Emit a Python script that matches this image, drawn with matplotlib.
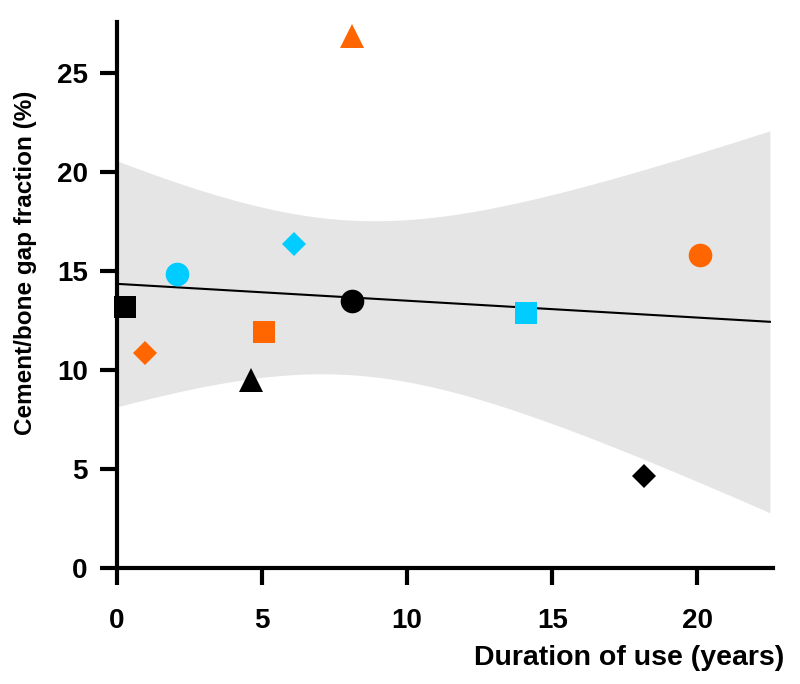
import numpy as np
import matplotlib.pyplot as plt

plt.rcParams['font.family'] = ['Liberation Sans', 'DejaVu Sans']
plt.rcParams['font.weight'] = 'bold'

years = [0.28, 0.97, 2.07, 4.62, 5.07, 6.1, 8.1, 8.1, 14.1, 18.17, 20.1]
gap = [13.2, 10.86, 14.85, 9.5, 11.9, 16.36, 26.9, 13.5, 12.9, 4.65, 15.8]
markers = ['s', 'D', 'o', '^', 's', 'D', '^', 'o', 's', 'D', 'o']
colors = ['black', '#FF6600', '#00CCFF', 'black', '#FF6600', '#00CCFF',
          '#FF6600', 'black', '#00CCFF', 'black', '#FF6600']
sizes = [16, 12, 17, 17, 16, 12, 17, 17, 16, 12, 17]

x = np.array(years)
y = np.array(gap)
n = len(x)
slope, intercept = np.polyfit(x, y, 1)
resid = y - (slope * x + intercept)
s = np.sqrt(np.sum(resid ** 2) / (n - 2))
t_val = 2.262  # t(0.975, df=9)
xx = np.linspace(0, 22.5, 200)
yy = slope * xx + intercept
half = t_val * s * np.sqrt(1 / n + (xx - x.mean()) ** 2 / np.sum((x - x.mean()) ** 2))

fig = plt.figure(figsize=(8, 6.84), dpi=100)
ax = fig.add_axes([0.146, 0.170, 0.82, 0.798])

ax.fill_between(xx, yy - half, yy + half, color='#E5E5E5', lw=0, zorder=1)
ax.plot(xx, yy, color='black', lw=1.5, zorder=2)

for xi, yi, m, c, ms in zip(years, gap, markers, colors, sizes):
    ax.plot(xi, yi, marker=m, color=c, markersize=ms, ls='none', zorder=3,
            markeredgewidth=0, clip_on=False)

ax.set_xlim(0, 22.6)
ax.set_ylim(0, 27.6)
ax.set_xticks([0, 5, 10, 15, 20])
ax.set_yticks([0, 5, 10, 15, 20, 25])

for sp in ['top', 'right']:
    ax.spines[sp].set_visible(False)
for sp in ['left', 'bottom']:
    ax.spines[sp].set_linewidth(3)
ax.tick_params(width=3, length=12, labelsize=20, pad=9)
ax.tick_params(axis='x', pad=17)
for lab in ax.get_xticklabels() + ax.get_yticklabels():
    lab.set_fontweight('bold')

ax.set_xlabel('Duration of use (years)', fontsize=20.5, fontweight='bold')
ax.xaxis.set_label_coords(1.018, -0.165)
ax.xaxis.label.set_horizontalalignment('right')
ax.xaxis.label.set_verticalalignment('center')
ax.set_ylabel('Cement/bone gap fraction (%)', fontsize=17.5, fontweight='bold')
ax.yaxis.set_label_coords(-0.139, 0.559)
ax.yaxis.label.set_verticalalignment('center')

fig.savefig('out.png', dpi=100)
